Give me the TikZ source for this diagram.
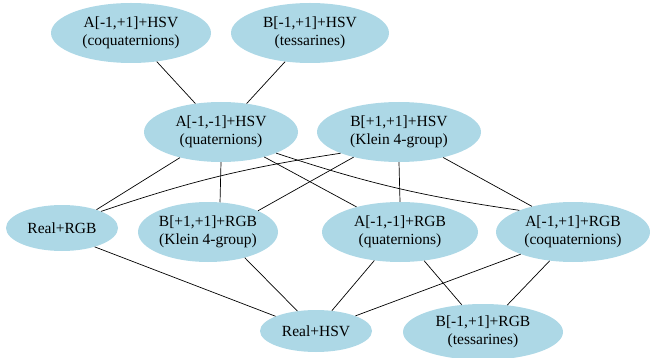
\documentclass[tikz,border=0pt]{standalone}
\usepackage{fontspec}
\setmainfont{Liberation Serif}
\usetikzlibrary{shapes.geometric}
\definecolor{nodeblue}{HTML}{ADD8E6}
\begin{document}
\begin{tikzpicture}[x=1pt,y=-1pt,
  vnode/.style={ellipse,fill=nodeblue,draw=none,inner sep=0pt,align=center,
    font=\fontsize{15.5}{17.5}\selectfont},
  link/.style={draw=black,line width=0.7pt}]
\useasboundingbox (0,0) rectangle (650,358);
\node[vnode,minimum width=160,minimum height=60] (n1) at (131,33) {A[-1,+1]+HSV\\(coquaternions)};
\node[vnode,minimum width=158,minimum height=60] (n2) at (310,33) {B[-1,+1]+HSV\\(tessarines)};
\node[vnode,minimum width=154,minimum height=60] (n3) at (221,132) {A[-1,-1]+HSV\\(quaternions)};
\node[vnode,minimum width=164,minimum height=60] (n4) at (399,132) {B[+1,+1]+HSV\\(Klein 4-group)};
\node[vnode,minimum width=112,minimum height=46] (r) at (62,228) {Real+RGB};
\node[vnode,minimum width=140,minimum height=60] (k) at (208,232) {B[+1,+1]+RGB\\(Klein 4-group)};
\node[vnode,minimum width=156,minimum height=60] (q) at (400,232) {A[-1,-1]+RGB\\(quaternions)};
\node[vnode,minimum width=154,minimum height=60] (c) at (573,232) {A[-1,+1]+RGB\\(coquaternions)};
\node[vnode,minimum width=112,minimum height=42] (h) at (316,331) {Real+HSV};
\node[vnode,minimum width=160,minimum height=56] (t) at (483,332) {B[-1,+1]+RGB\\(tessarines)};
\draw[link] (n1.-48) -- (n3.132);
\draw[link] (n2.-131) -- (n3.48);
\draw[link] (n3.-148) -- (r.28);
\draw[link] (n3.-90) -- (k.68);
\draw[link] (n3.-30) -- (q.150);
\draw[link] (n3.-21) to[bend right=5] (c.158);
\draw[link] (n4.-160) to[bend right=5] (r.23);
\draw[link] (n4.-151) -- (k.23);
\draw[link] (n4.-90) -- (q.90);
\draw[link] (n4.-30) -- (c.148);
\draw[link] (r.-30) -- (h.160);
\draw[link] (k.-35) -- (h.133);
\draw[link] (q.-132) -- (h.52);
\draw[link] (c.-157) -- (h.21);
\draw[link] (q.-50) -- (t.128);
\draw[link] (c.-129) -- (t.48);
\end{tikzpicture}
\end{document}
